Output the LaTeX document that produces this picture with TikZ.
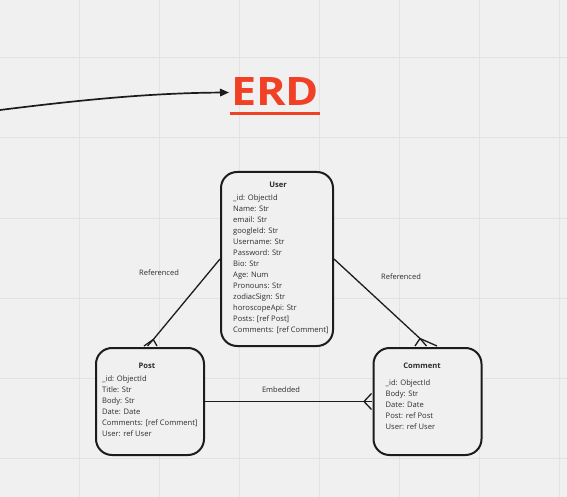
\documentclass[tikz,border=0pt]{standalone}
\usepackage{fontspec}
\setmainfont{Open Sans}
\usetikzlibrary{calc,arrows.meta}
\definecolor{bgc}{RGB}{240,240,240}
\definecolor{gridc}{RGB}{226,226,226}
\definecolor{erdred}{RGB}{240,64,38}
\definecolor{ink}{RGB}{28,28,28}
\definecolor{txt}{RGB}{45,45,45}
\tikzset{
  entity/.style={draw=ink, line width=2bp, rounded corners=16bp, inner sep=0pt, fill=bgc},
  etitle/.style={font=\fontsize{7.6bp}{9bp}\selectfont\bfseries, text=txt, anchor=base, inner sep=0pt},
  field/.style={font=\fontsize{7.6bp}{9bp}\selectfont, text=txt, anchor=base west, inner sep=0pt},
  lbl/.style={font=\fontsize{7.5bp}{9bp}\selectfont, text=txt, inner sep=0pt},
  conn/.style={draw=ink, line width=1.3bp},
  gridline/.style={draw=gridc, line width=1bp}
}
\begin{document}
\begin{tikzpicture}[x=1bp,y=-1bp]
\fill[bgc] (0,0) rectangle (567,497);
\useasboundingbox (0,0) rectangle (567,497);
% grid
\foreach \x in {79,159,239,319,399,479,559} \draw[gridline] (\x,0) -- (\x,497);
\foreach \y in {58,138,218,298,378,458} \draw[gridline] (0,\y) -- (567,\y);
% title
\node[inner sep=0pt, anchor=west, text=erdred] (erd) at (231,91.5) {\resizebox{88bp}{28bp}{\bfseries ERD}};
\draw[erdred, line width=3bp] ($(erd.south west)+(-1,8)$) -- ($(erd.south east)+(1,8)$);
\coordinate (astart) at (0,110);
\draw[ink, line width=1.7bp, -{Triangle[length=9bp,width=7.5bp]}] (astart) .. controls (80,100) and (150,93) .. ($(erd.west)+(-2,1)$);
% entities
\node[entity, minimum width=112bp, minimum height=174bp] (user) at (277,259) {};
\node[entity, minimum width=108bp, minimum height=107bp] (post) at (150,401.5) {};
\node[entity, minimum width=108bp, minimum height=107bp] (comment) at (427.5,401.5) {};
% user text
\node[etitle] (ut) at (278,187.6) {User};
\foreach \t [count=\i from 0] in {\_id: ObjectId, Name: Str, email: Str, googleId: Str, Username: Str, Password: Str, Bio: Str, Age: Num, Pronouns: Str, zodiacSign: Str, horoscopeApi: Str, Posts: [ref Post], Comments: [ref Comment]}
  \node[field] (uf\i) at (233,{200.6+11*\i}) {\t};
% post text
\node[etitle] (pt) at (147,368.6) {Post};
\foreach \t [count=\i from 0] in {\_id: ObjectId, Title: Str, Body: Str, Date: Date, Comments: [ref Comment], User: ref User}
  \node[field] (pf\i) at (102,{381.6+11*\i}) {\t};
% comment text
\node[etitle] (ct) at (422,368.6) {Comment};
\foreach \t [count=\i from 0] in {\_id: ObjectId, Body: Str, Date: Date, Post: ref Post, User: ref User}
  \node[field] (cf\i) at (385.5,{385.6+11*\i}) {\t};
% labels
\node[lbl] (l1) at (159,273) {Referenced};
\node[lbl] (l2) at (401,277) {Referenced};
\node[lbl] (l3) at (281,390) {Embedded};
% connectors with crow's feet
\coordinate (pa) at ($(post.north)+(3.3,-7.5)$);
\draw[conn] (user.west) -- (pa);
\draw[conn] (pa) -- ($(post.north)+(-6,-1)$);
\draw[conn] (pa) -- ($(post.north)+(-2.5,-1)$);
\draw[conn] (pa) -- ($(post.north)+(7,-1)$);
\coordinate (ca) at ($(comment.north)+(-7.5,-8.5)$);
\draw[conn] (user.east) -- (ca);
\draw[conn] (ca) -- ($(comment.north)+(-12.5,-1)$);
\draw[conn] (ca) -- ($(comment.north)+(-1,-1)$);
\draw[conn] (ca) -- ($(comment.north)+(9.5,-1)$);
\coordinate (ea) at ($(comment.west)+(-8.5,0)$);
\draw[conn] (post.east) -- (ea);
\draw[conn] (ea) -- ($(comment.west)+(-1,-8)$);
\draw[conn] (ea) -- ($(comment.west)+(-1,0)$);
\draw[conn] (ea) -- ($(comment.west)+(-1,8)$);
\end{tikzpicture}
\end{document}
